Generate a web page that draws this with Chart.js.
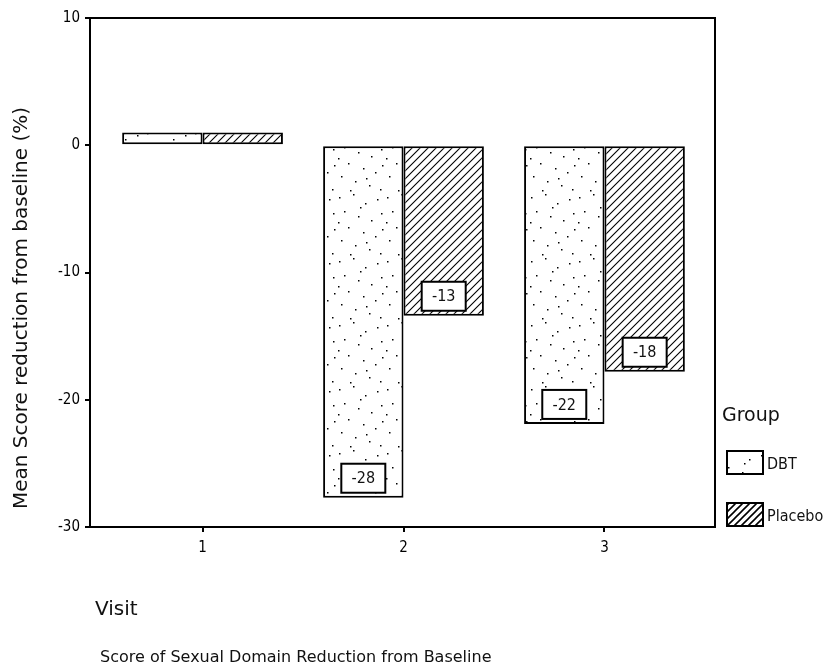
<!DOCTYPE html>
<html>
<head>
<meta charset="utf-8">
<script src="https://cdn.jsdelivr.net/npm/chart.js@4/dist/chart.umd.min.js"></script>
<style>
  html, body { margin: 0; padding: 0; background: #fff; }
  #wrap { width: 833px; height: 666px; }
</style>
</head>
<body>
<div id="wrap"><canvas id="c" width="833" height="666"></canvas></div>
<script>
// Mean score change from baseline (%) by visit and treatment group
const visits = [1, 2, 3];
const groups = ['DBT', 'Placebo'];
const dbtValues = [1.0, -27.7, -21.9];
const placeboValues = [1.0, -13.4, -17.8];
const yTicks = [-30, -20, -10, 0, 10];

const yTitle = 'Mean Score reduction from baseline (%)';
const xTitle = 'Visit';
const legendTitle = 'Group';
const caption = 'Score of Sexual Domain Reduction from Baseline';

const FONT = '"DejaVu Sans", Verdana, sans-serif';
const NARROW = '"DejaVu Sans Condensed", "DejaVu Sans", sans-serif';
const INK = '#111';

// Diagonal "/" hatch fill
function hatchPattern(step, lw) {
  const c = document.createElement('canvas');
  c.width = step; c.height = step;
  const g = c.getContext('2d');
  g.fillStyle = '#fff';
  g.fillRect(0, 0, step, step);
  g.strokeStyle = '#000';
  g.lineWidth = lw;
  g.beginPath();
  g.moveTo(-1, step + 1); g.lineTo(step + 1, -1);
  g.moveTo(-step / 2 - 1, step / 2 + 1); g.lineTo(step / 2 + 1, -step / 2 - 1);
  g.moveTo(step / 2 - 1, step * 1.5 + 1); g.lineTo(step * 1.5 + 1, step / 2 - 1);
  g.stroke();
  return g.createPattern(c, 'repeat');
}

// Sparse stipple fill
const stippleDots = [
  [3, 5], [17, 2], [29, 11], [41, 7], [8, 19], [22, 24], [35, 28], [45, 21],
  [12, 35], [27, 40], [39, 44], [5, 48], [19, 53], [33, 57], [44, 61], [14, 62],
  [24, 15], [2, 30], [46, 37], [30, 50]
];
function stipplePattern() {
  const c = document.createElement('canvas');
  c.width = 48; c.height = 64;
  const g = c.getContext('2d');
  g.fillStyle = '#fff';
  g.fillRect(0, 0, 48, 64);
  g.fillStyle = '#000';
  stippleDots.forEach(([x, y]) => g.fillRect(x, y, 1.5, 1.5));
  return g.createPattern(c, 'repeat');
}

const fills = [stipplePattern(), hatchPattern(8, 1.1)];
const legendFills = [stipplePattern(), hatchPattern(7, 1.6)];
const seriesValues = [dbtValues, placeboValues];

// Plot frame (top and right edges complete the box)
const framePlugin = {
  id: 'frame',
  afterDraw(chart) {
    const { ctx, chartArea: a } = chart;
    ctx.save();
    ctx.strokeStyle = '#000';
    ctx.lineWidth = 2;
    ctx.strokeRect(a.left, a.top, a.right - a.left, a.bottom - a.top);
    ctx.restore();
  }
};

// Boxed value labels near the end of each tall bar
const valueLabelPlugin = {
  id: 'valueLabels',
  afterDatasetsDraw(chart) {
    const { ctx } = chart;
    ctx.save();
    chart.data.datasets.forEach((ds, di) => {
      const meta = chart.getDatasetMeta(di);
      meta.data.forEach((el, i) => {
        const v = seriesValues[di][i];
        const h = Math.abs(el.base - el.y);
        if (h < 40) return;
        const w = 44, bh = 29;
        const x = el.x - w / 2;
        const y = el.y - 5 - bh;
        ctx.fillStyle = '#fff';
        ctx.fillRect(x, y, w, bh);
        ctx.strokeStyle = '#000';
        ctx.lineWidth = 2;
        ctx.strokeRect(x, y, w, bh);
        ctx.fillStyle = INK;
        ctx.font = '16px ' + NARROW;
        ctx.textAlign = 'center';
        ctx.textBaseline = 'middle';
        ctx.fillText(String(Math.round(v)), el.x, y + bh / 2 + 1);
      });
    });
    ctx.restore();
  }
};

// Titles, legend and caption
const textPlugin = {
  id: 'texts',
  afterDraw(chart) {
    const { ctx } = chart;
    ctx.save();
    ctx.fillStyle = INK;

    ctx.save();
    ctx.translate(22, 308);
    ctx.rotate(-Math.PI / 2);
    ctx.font = '20px ' + FONT;
    ctx.textAlign = 'center';
    ctx.textBaseline = 'middle';
    ctx.fillText(yTitle, 0, 0);
    ctx.restore();

    ctx.textAlign = 'left';
    ctx.textBaseline = 'alphabetic';
    ctx.font = '20px ' + FONT;
    ctx.fillText(xTitle, 95, 615);

    ctx.font = '16px ' + FONT;
    ctx.fillText(caption, 100, 662);

    ctx.font = '19px ' + FONT;
    ctx.fillText(legendTitle, 722, 421);

    groups.forEach((g, i) => {
      const by = 451 + i * 52;
      ctx.fillStyle = legendFills[i];
      ctx.fillRect(727, by, 36, 23);
      ctx.strokeStyle = '#000';
      ctx.lineWidth = 2;
      ctx.strokeRect(727, by, 36, 23);
      ctx.fillStyle = INK;
      ctx.font = '16px ' + NARROW;
      ctx.fillText(g, 767, by + 18);
    });
    ctx.restore();
  }
};

const tickFont = { family: NARROW, size: 15 };

new Chart(document.getElementById('c'), {
  type: 'bar',
  data: {
    datasets: groups.map((g, di) => ({
      label: g,
      data: visits.map((v, i) => ({ x: v, y: seriesValues[di][i] })),
      backgroundColor: fills[di],
      borderColor: '#000',
      borderWidth: 2,
      borderSkipped: false
    }))
  },
  options: {
    responsive: false,
    animation: false,
    layout: { padding: { top: 18, right: 118, left: 0, bottom: 0 } },
    plugins: { legend: { display: false }, tooltip: { enabled: false } },
    datasets: { bar: { categoryPercentage: 0.8, barPercentage: 1 } },
    scales: {
      x: {
        type: 'linear',
        min: 0.44,
        max: 3.55,
        offset: false,
        afterBuildTicks: s => { s.ticks = visits.map(v => ({ value: v })); },
        afterFit: s => { s.height = 139; },
        grid: { offset: false, drawOnChartArea: false, tickLength: 5, color: '#000', lineWidth: 2 },
        border: { color: '#000', width: 2 },
        ticks: { color: '#000', font: tickFont, padding: 7 }
      },
      y: {
        type: 'linear',
        min: -30,
        max: 10,
        afterBuildTicks: s => { s.ticks = yTicks.map(v => ({ value: v })); },
        afterFit: s => { s.width = 90; },
        grid: { drawOnChartArea: false, tickLength: 5, color: '#000', lineWidth: 2 },
        border: { color: '#000', width: 2 },
        ticks: { color: '#000', font: tickFont, padding: 5 }
      }
    }
  },
  plugins: [framePlugin, valueLabelPlugin, textPlugin]
});
</script>
</body>
</html>
